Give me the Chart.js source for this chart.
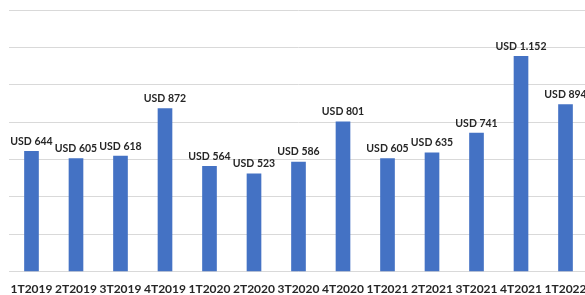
<!DOCTYPE html>
<html>
<head>
<meta charset="utf-8">
<script src="https://cdn.jsdelivr.net/npm/chart.js@4"></script>
<style>
  body { margin: 0; overflow: hidden; background: #fff; }
  #wrap { position: absolute; left: 0; top: 0; width: 597px; height: 307px; }
</style>
</head>
<body>
<div id="wrap"><canvas id="revChart"></canvas></div>
<script>
// quarters + values (USD)
const quarters = ["1T2019", "2T2019", "3T2019", "4T2019", "1T2020", "2T2020", "3T2020",
  "4T2020", "1T2021", "2T2021", "3T2021", "4T2021", "1T2022"];
const values = [644, 605, 618, 872, 564, 523, 586, 801, 605, 635, 741, 1152, 894];

function fmtUsd(v) {
  return "USD " + String(v).replace(/\B(?=(\d{3})+(?!\d))/g, ".");
}

// value labels above each bar
const barLabels = {
  id: "barLabels",
  afterDatasetsDraw(chart) {
    const ctx = chart.ctx;
    const meta = chart.getDatasetMeta(0);
    ctx.save();
    ctx.font = "bold 10.5px Lato";
    ctx.fillStyle = "#262626";
    ctx.textAlign = "center";
    ctx.textBaseline = "middle";
    meta.data.forEach((bar, i) => {
      ctx.fillText(fmtUsd(values[i]), bar.x, bar.y - 10);
    });
    ctx.restore();
  },
};

const ctx = document.getElementById("revChart").getContext("2d");
new Chart(ctx, {
  type: "bar",
  data: {
    labels: quarters,
    datasets: [
      {
        data: values,
        backgroundColor: "#4472C4",
        barThickness: 14,
      },
    ],
  },
  options: {
    responsive: true,
    maintainAspectRatio: false,
    animation: false,
    layout: { padding: { left: 9, right: 0, top: 10, bottom: 0 } },
    plugins: {
      legend: { display: false },
      tooltip: { enabled: false },
    },
    scales: {
      x: {
        grid: { display: false, drawTicks: false },
        border: { display: false },
        ticks: {
          padding: 10.5,
          color: "#262626",
          font: { family: "Lato", size: 12, weight: "bold" },
          maxRotation: 0,
          autoSkip: false,
        },
      },
      y: {
        min: 0,
        max: 1400,
        ticks: { display: false, stepSize: 200 },
        grid: { color: "#d9d9d9", drawTicks: false },
        border: { display: false },
      },
    },
  },
  plugins: [barLabels],
});
</script>
</body>
</html>
